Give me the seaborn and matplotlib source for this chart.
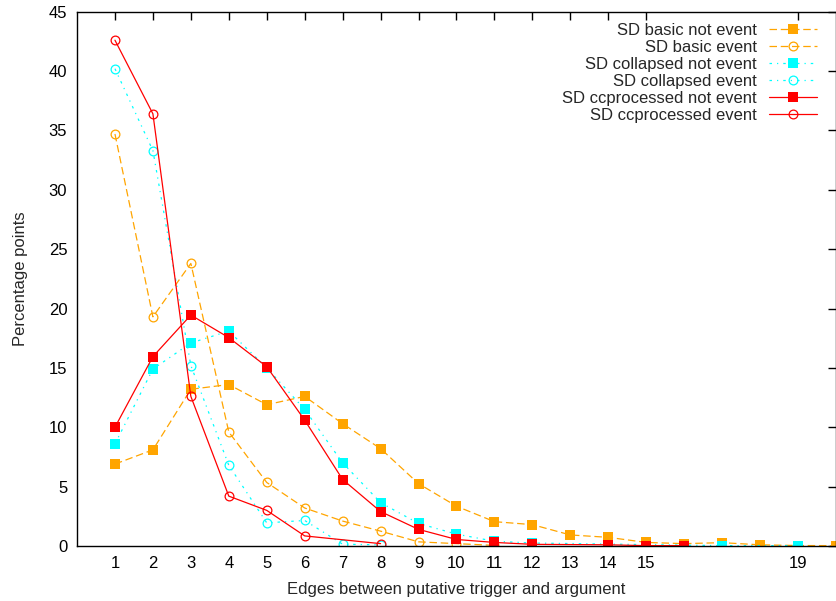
import matplotlib
matplotlib.use("Agg")
import matplotlib.pyplot as plt
import seaborn as sns

# values
basic_not_x = list(range(1, 21))
basic_not_y = [6.9, 8.1, 13.2, 13.6, 11.9, 12.6, 10.3, 8.2, 5.25, 3.35, 2.05, 1.8,
               0.93, 0.73, 0.3, 0.2, 0.28, 0.1, 0.04, 0.03]

basic_ev_x = list(range(1, 12))
basic_ev_y = [34.7, 19.3, 23.8, 9.6, 5.35, 3.2, 2.1, 1.25, 0.35, 0.2, 0.05]

coll_not_x = list(range(1, 13)) + [17, 19]
coll_not_y = [8.6, 14.9, 17.1, 18.1, 15.0, 11.5, 7.0, 3.65, 1.9, 1.0, 0.4, 0.25, 0.03, 0.03]

coll_ev_x = list(range(1, 9))
coll_ev_y = [40.2, 33.3, 15.2, 6.8, 1.95, 2.15, 0.15, 0.1]

cc_not_x = list(range(1, 13)) + [14, 15, 16]
cc_not_y = [10.0, 15.95, 19.45, 17.55, 15.1, 10.6, 5.6, 2.9, 1.4, 0.55, 0.3, 0.14, 0.1, 0.03, 0.03]

cc_ev_x = [1, 2, 3, 4, 5, 6, 8]
cc_ev_y = [42.6, 36.4, 12.6, 4.2, 3.0, 0.85, 0.2]

xtick_vals = list(range(1, 16)) + [19]

sns.set_style("white")
plt.rcParams["font.family"] = ["Liberation Sans", "DejaVu Sans"]

fig = plt.figure(figsize=(8.37, 6.01), dpi=100)
ax = fig.add_axes([77 / 837, 1 - 546 / 601, (836 - 77) / 837, (546 - 11.7) / 601])

orange = "#FFA500"
cyan = "#00FFFF"
red = "#FF0000"

series = [
    (basic_not_x, basic_not_y, "SD basic not event", orange, "s", (6, 3), True),
    (basic_ev_x, basic_ev_y, "SD basic event", orange, "o", (6, 3), False),
    (coll_not_x, coll_not_y, "SD collapsed not event", cyan, "s", (2, 4, 1, 4), True),
    (coll_ev_x, coll_ev_y, "SD collapsed event", cyan, "o", (2, 4, 1, 4), False),
    (cc_not_x, cc_not_y, "SD ccprocessed not event", red, "s", None, True),
    (cc_ev_x, cc_ev_y, "SD ccprocessed event", red, "o", None, False),
]

for xs, ys, name, col, mk, dash, filled in series:
    sns.lineplot(x=xs, y=ys, ax=ax, color=col, marker=mk, label=name,
                 markersize=6.8 if filled else 6.3, linewidth=0.9,
                 markerfacecolor=col if filled else "none",
                 markeredgecolor=col, markeredgewidth=0 if filled else 0.9)
    ln = ax.lines[-1]
    if dash is not None:
        ln.set_dashes(dash)

ax.set_xlim(0, 20)
ax.set_ylim(0, 45)
ax.set_xticks(xtick_vals)
ax.set_yticks(range(0, 46, 5))
ax.tick_params(direction="in", length=6, width=1, top=True, right=True,
               labelsize=12, colors="black", pad=7)
for sp in ax.spines.values():
    sp.set_visible(True)
    sp.set_color("black")
    sp.set_linewidth(1)

ax.set_xlabel("Edges between putative trigger and argument", fontsize=12, labelpad=8)
ax.set_ylabel("Percentage points", fontsize=12, labelpad=15)

leg = ax.legend(loc="upper right", bbox_to_anchor=(817 / 837, 1 - 23 / 601),
                bbox_transform=fig.transFigure, frameon=False, markerfirst=False,
                fontsize=12, handlelength=2.9, handletextpad=0.7, labelspacing=0.12,
                borderpad=0, borderaxespad=0)

fig.savefig("out.png", dpi=100)
